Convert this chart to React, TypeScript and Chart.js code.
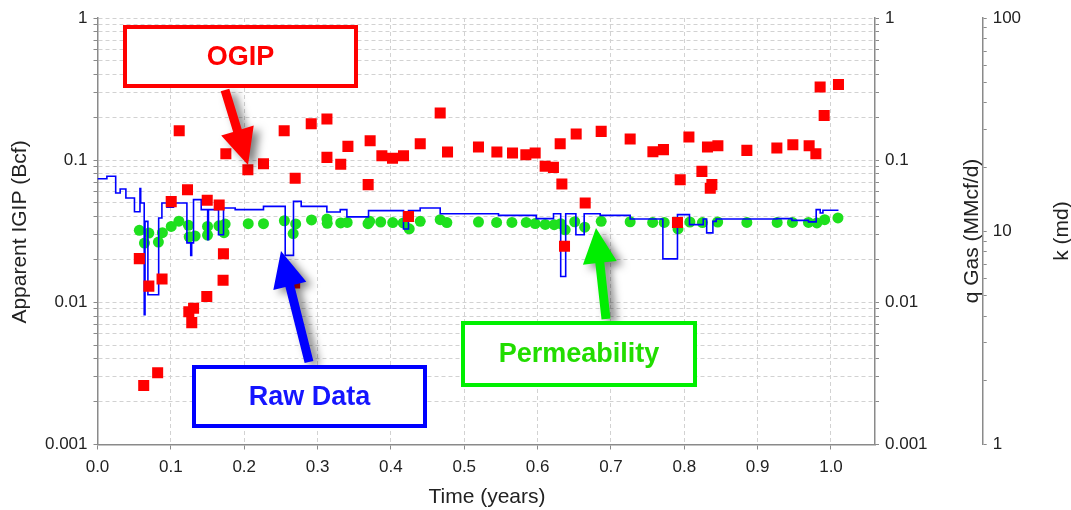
import React, { useEffect, useRef } from 'react';
import { Chart, registerables } from 'chart.js';

Chart.register(...registerables);

// ---------- data ----------
const ogipTime = [
  0.057, 0.063, 0.070, 0.082, 0.088, 0.1005, 0.1114, 0.1227, 0.1245, 0.131,
  0.1285, 0.1496, 0.149, 0.1659, 0.1717, 0.1712, 0.175, 0.205, 0.2263, 0.2545,
  0.2688, 0.2695, 0.2914, 0.3128, 0.3128, 0.3316, 0.3414, 0.369, 0.3717, 0.3877,
  0.4022, 0.4172, 0.424, 0.44, 0.4672, 0.4772, 0.5194, 0.5445, 0.5658, 0.584,
  0.5967, 0.6103, 0.6216, 0.6308, 0.6331, 0.6367, 0.6526, 0.6649, 0.6867, 0.7262,
  0.7572, 0.7716, 0.7907, 0.7944, 0.8063, 0.824, 0.8316, 0.8376, 0.8354, 0.8458,
  0.8853, 0.9262, 0.948, 0.9702, 0.9794, 0.9852, 0.9907, 1.0102,
];
const ogipValue = [
  0.0203, 0.0026, 0.013, 0.0032, 0.0146, 0.0511, 0.161, 0.062, 0.0086, 0.0091,
  0.0072, 0.0523, 0.011, 0.0483, 0.022, 0.0143, 0.111, 0.0857, 0.0945, 0.161,
  0.0137, 0.0747, 0.1805, 0.195, 0.1046, 0.0937, 0.125, 0.0673, 0.137, 0.1076,
  0.103, 0.1076, 0.0401, 0.1306, 0.2147, 0.1142, 0.1238, 0.1142, 0.1124, 0.1093,
  0.1124, 0.0905, 0.089, 0.1306, 0.068, 0.0248, 0.1528, 0.05, 0.1594, 0.141,
  0.1148, 0.1186, 0.0365, 0.0729, 0.1456, 0.0834, 0.1238, 0.0673, 0.0635, 0.1265,
  0.1172, 0.1219, 0.1285, 0.1265, 0.1111, 0.327, 0.2065, 0.34,
];

const rateTime = [
  0, 0.0128, 0.0248, 0.0309, 0.0387, 0.0504, 0.0579, 0.0589, 0.0637, 0.0648,
  0.0687, 0.0834, 0.0878, 0.0946, 0.1036, 0.1219, 0.1271, 0.1284, 0.1309, 0.1414,
  0.1502, 0.1513, 0.165, 0.1718, 0.1877, 0.2263, 0.2559, 0.2672, 0.2777, 0.3127,
  0.3309, 0.34, 0.3695, 0.4172, 0.424, 0.4399, 0.4672, 0.5467, 0.5981, 0.6217,
  0.6315, 0.6383, 0.6522, 0.6635, 0.6853, 0.7262, 0.7708, 0.7907, 0.8071, 0.8258,
  0.8305, 0.839, 0.8435, 0.9262, 0.9467, 0.9693, 0.9798, 0.9853, 0.989, 1.0102,
];
const rateValue = [
  0.074, 0.077, 0.0588, 0.0627, 0.0542, 0.0434, 0.0632, 0.05, 0.0082, 0.0371,
  0.0113, 0.0392, 0.05, 0.0466, 0.05, 0.0262, 0.0214, 0.0262, 0.0528, 0.0449,
  0.0276, 0.0449, 0.0299, 0.0461, 0.0449, 0.0473, 0.0214, 0.0513, 0.0473, 0.0432,
  0.0449, 0.0399, 0.0442, 0.0328, 0.0442, 0.0461, 0.042, 0.0409, 0.0388, 0.042,
  0.0152, 0.042, 0.0299, 0.042, 0.0409, 0.0386, 0.0202, 0.0414, 0.0352, 0.0386,
  0.0308, 0.0371, 0.0386, 0.0388, 0.0377, 0.0368, 0.0449, 0.0425, 0.0444, 0.0444,
];

const permTime = [
  0.057, 0.064, 0.07, 0.083, 0.0885, 0.1005, 0.111, 0.124, 0.125, 0.133,
  0.15, 0.15, 0.1655, 0.1725, 0.174, 0.2055, 0.2263, 0.2548, 0.2668, 0.2702,
  0.2918, 0.3128, 0.3132, 0.3316, 0.3404, 0.3688, 0.3711, 0.3861, 0.4025, 0.4168,
  0.425, 0.44, 0.4672, 0.4763, 0.5194, 0.5441, 0.565, 0.5845, 0.5967, 0.6104,
  0.6226, 0.6315, 0.6376, 0.6506, 0.6642, 0.6867, 0.7262, 0.7569, 0.7726, 0.7914,
  0.8076, 0.8247, 0.8455, 0.8853, 0.9266, 0.9474, 0.9693, 0.9808, 0.9914, 1.0095,
];
const permValue = [
  10.1, 8.8, 9.8, 8.9, 9.85, 10.54, 11.15, 10.66, 9.42, 9.5,
  10.54, 9.6, 10.6, 9.85, 10.8, 10.85, 10.85, 11.2, 9.75, 10.82,
  11.3, 11.4, 10.9, 10.94, 11.0, 10.85, 11.13, 11.05, 10.98, 10.94,
  10.27, 11.13, 11.33, 10.98, 11.05, 11.0, 11.0, 11.0, 10.87, 10.76,
  10.74, 10.85, 10.15, 11.08, 10.45, 11.13, 11.08, 11.0, 11.0, 10.25,
  11.05, 10.98, 11.05, 11.0, 11.0, 11.0, 11.0, 10.94, 11.33, 11.55,
];

// ---------- tick labels ----------
const xTickValues = [0, 0.1, 0.2, 0.3, 0.4, 0.5, 0.6, 0.7, 0.8, 0.9, 1.0];
const bcfTickValues = [
  0.001, 0.002, 0.003, 0.004, 0.005, 0.006, 0.007, 0.008, 0.009,
  0.01, 0.02, 0.03, 0.04, 0.05, 0.06, 0.07, 0.08, 0.09,
  0.1, 0.2, 0.3, 0.4, 0.5, 0.6, 0.7, 0.8, 0.9, 1,
];
const bcfTickLabels = ['0.001', '0.01', '0.1', '1'];
const kTickValues = [1, 2, 3, 4, 5, 6, 7, 8, 9, 10, 20, 30, 40, 50, 60, 70, 80, 90, 100];
const kTickLabels = ['1', '10', '100'];

const FONT = '"Liberation Sans", Arial, Helvetica, sans-serif';

const labelFor = (labels: string[]) => (v: any) => {
  const hit = labels.find((l) => Math.abs(parseFloat(l) - Number(v)) < 1e-9 * Math.max(1, Number(v)));
  return hit !== undefined ? hit : '';
};

function drawArrow(ctx: CanvasRenderingContext2D, x0: number, y0: number, x1: number, y1: number,
  color: string, shaft: number, headW: number, headL: number) {
  const dx = x1 - x0, dy = y1 - y0;
  const len = Math.hypot(dx, dy);
  const ux = dx / len, uy = dy / len;
  const px = -uy, py = ux;
  const nx = x1 - ux * headL, ny = y1 - uy * headL;
  ctx.save();
  ctx.shadowColor = 'rgba(0,0,0,0.5)';
  ctx.shadowBlur = 9;
  ctx.shadowOffsetX = 6;
  ctx.shadowOffsetY = 4;
  ctx.fillStyle = color;
  ctx.beginPath();
  ctx.moveTo(x0 + px * shaft / 2, y0 + py * shaft / 2);
  ctx.lineTo(nx + px * shaft / 2, ny + py * shaft / 2);
  ctx.lineTo(nx + px * headW / 2, ny + py * headW / 2);
  ctx.lineTo(x1, y1);
  ctx.lineTo(nx - px * headW / 2, ny - py * headW / 2);
  ctx.lineTo(nx - px * shaft / 2, ny - py * shaft / 2);
  ctx.lineTo(x0 - px * shaft / 2, y0 - py * shaft / 2);
  ctx.closePath();
  ctx.fill();
  ctx.restore();
}

function drawBox(ctx: CanvasRenderingContext2D, x: number, y: number, w: number, h: number,
  border: string, text: string, textColor: string) {
  ctx.save();
  ctx.fillStyle = '#ffffff';
  ctx.fillRect(x, y, w, h);
  ctx.strokeStyle = border;
  ctx.lineWidth = 4;
  ctx.strokeRect(x, y, w, h);
  ctx.fillStyle = textColor;
  ctx.font = `bold 27px ${FONT}`;
  ctx.textAlign = 'center';
  ctx.textBaseline = 'middle';
  ctx.fillText(text, x + w / 2, y + h / 2 + 1);
  ctx.restore();
}

function vText(ctx: CanvasRenderingContext2D, text: string, x: number, y: number) {
  ctx.save();
  ctx.translate(x, y);
  ctx.rotate(-Math.PI / 2);
  ctx.fillText(text, 0, 0);
  ctx.restore();
}

const overlayPlugin = {
  id: 'overlay',
  afterDraw(chart: any) {
    const ctx: CanvasRenderingContext2D = chart.ctx;
    ctx.save();
    ctx.fillStyle = '#222222';
    ctx.font = `21px ${FONT}`;
    ctx.textAlign = 'center';
    ctx.textBaseline = 'middle';
    ctx.fillText('Time (years)', 487, 497);
    vText(ctx, 'Apparent IGIP (Bcf)', 20, 232);
    vText(ctx, 'q Gas (MMcf/d)', 972, 231);
    vText(ctx, 'k (md)', 1062, 231);
    ctx.restore();

    drawArrow(ctx, 225, 90, 248, 165, '#ff0000', 9, 34, 36);
    drawArrow(ctx, 309, 362, 281, 251, '#0000ff', 9, 34, 36);
    drawArrow(ctx, 606, 319, 596, 228, '#00ee00', 9, 34, 35);

    drawBox(ctx, 125, 27, 231, 59, '#ff0000', 'OGIP', '#ff0000');
    drawBox(ctx, 194, 367, 231, 59, '#0000ff', 'Raw Data', '#1515ff');
    drawBox(ctx, 463, 323, 232, 62, '#00f000', 'Permeability', '#22dd00');
  },
};

export default function App() {
  const canvasRef = useRef<HTMLCanvasElement | null>(null);

  useEffect(() => {
    if (!canvasRef.current) return;
    Chart.defaults.font.family = FONT;
    const ogipData = ogipTime.map((t, i) => ({ x: t, y: ogipValue[i] }));
    const rateData = rateTime.map((t, i) => ({ x: t, y: rateValue[i] }));
    const permData = permTime.map((t, i) => ({ x: t, y: permValue[i] }));

    const gridColor = '#d2d2d2';
    const axisColor = '#8a8a8a';
    const tickFont = { size: 17, family: FONT };

    const chart = new Chart(canvasRef.current, {
      type: 'scatter',
      data: {
        datasets: [
          {
            label: 'OGIP',
            data: ogipData,
            yAxisID: 'y',
            pointStyle: 'rect',
            pointRadius: 7.8,
            pointHoverRadius: 7.8,
            backgroundColor: '#ff0000',
            borderWidth: 0,
            showLine: false,
          } as any,
          {
            type: 'line',
            label: 'q Gas',
            data: rateData,
            yAxisID: 'yq',
            stepped: 'before',
            borderColor: '#0000ff',
            borderWidth: 1.6,
            pointRadius: 0,
            fill: false,
          } as any,
          {
            label: 'k',
            data: permData,
            yAxisID: 'yk',
            pointStyle: 'circle',
            pointRadius: 5.5,
            pointHoverRadius: 5.5,
            backgroundColor: '#1ee01e',
            borderWidth: 0,
            showLine: false,
          } as any,
        ],
      },
      options: {
        responsive: false,
        animation: false,
        devicePixelRatio: 1,
        events: [],
        layout: { padding: { top: 18, left: 0, right: 0, bottom: 0 } },
        plugins: { legend: { display: false }, tooltip: { enabled: false } },
        scales: {
          x: {
            type: 'linear',
            position: 'bottom',
            min: 0,
            max: 1.06,
            afterBuildTicks: (s: any) => { s.ticks = xTickValues.map((v) => ({ value: v })); },
            afterFit: (s: any) => { s.height = 65.5; },
            ticks: {
              callback: (v: any) => Number(v).toFixed(1),
              color: '#222', font: tickFont, padding: 8, autoSkip: false, maxRotation: 0,
            },
            grid: { color: gridColor, lineWidth: 1, tickLength: 5, tickColor: axisColor, tickWidth: 1 },
            border: { display: true, color: axisColor, width: 1.5, dash: [4, 3] },
          },
          y: {
            type: 'logarithmic',
            position: 'left',
            min: 0.001,
            max: 1,
            afterBuildTicks: (s: any) => { s.ticks = bcfTickValues.map((v) => ({ value: v })); },
            afterFit: (s: any) => { s.width = 97.5; },
            ticks: { callback: labelFor(bcfTickLabels), color: '#222', font: tickFont, padding: 6, autoSkip: false },
            grid: { color: gridColor, lineWidth: 1, tickLength: 4, tickColor: axisColor, tickWidth: 1 },
            border: { display: true, color: axisColor, width: 1.5, dash: [4, 3] },
          },
          yq: {
            type: 'logarithmic',
            position: 'right',
            weight: 0,
            min: 0.001,
            max: 1,
            afterBuildTicks: (s: any) => { s.ticks = bcfTickValues.map((v) => ({ value: v })); },
            afterFit: (s: any) => { s.width = 107.7; },
            ticks: { callback: labelFor(bcfTickLabels), color: '#222', font: tickFont, padding: 6, autoSkip: false },
            grid: { drawOnChartArea: false, tickLength: 4, tickColor: axisColor, tickWidth: 1 },
            border: { display: true, color: axisColor, width: 1.5 },
          },
          yk: {
            type: 'logarithmic',
            position: 'right',
            weight: 1,
            min: 1,
            max: 100,
            afterBuildTicks: (s: any) => { s.ticks = kTickValues.map((v) => ({ value: v })); },
            afterFit: (s: any) => { s.width = 88.3; },
            ticks: { callback: labelFor(kTickLabels), color: '#222', font: tickFont, padding: 6, autoSkip: false },
            grid: { drawOnChartArea: false, tickLength: 4, tickColor: axisColor, tickWidth: 1 },
            border: { display: true, color: axisColor, width: 1.5 },
          },
        },
      } as any,
      plugins: [overlayPlugin],
    });
    return () => chart.destroy();
  }, []);

  return (
    <div style={{ position: 'absolute', left: 0, top: 0, width: 1071, height: 510, overflow: 'hidden', background: '#fff' }}>
      <canvas ref={canvasRef} width={1071} height={510} style={{ display: 'block' }} />
    </div>
  );
}
